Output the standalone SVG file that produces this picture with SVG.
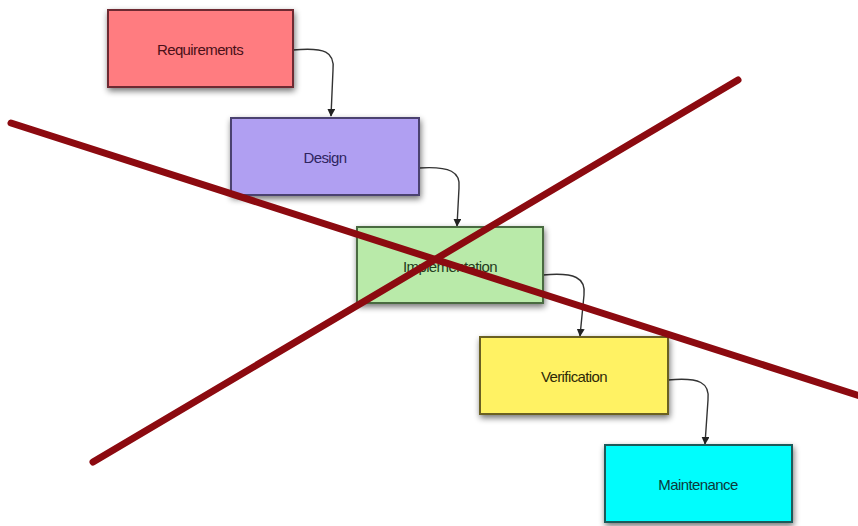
<svg xmlns="http://www.w3.org/2000/svg" width="858" height="526" viewBox="0 0 858 526">
<defs>
<filter id="sh" x="-10%" y="-10%" width="125%" height="135%">
<feGaussianBlur in="SourceAlpha" stdDeviation="3"/>
<feOffset dx="1" dy="3" result="b"/>
<feComponentTransfer><feFuncA type="linear" slope="0.55"/></feComponentTransfer>
<feMerge><feMergeNode/><feMergeNode in="SourceGraphic"/></feMerge>
</filter>
<marker id="ah" viewBox="0 0 10 10" refX="9" refY="5" markerWidth="8" markerHeight="8" orient="auto" markerUnits="userSpaceOnUse">
<path d="M0,0 L10,5 L0,10 z" fill="#222"/>
</marker>
<style>
.box{stroke-width:2;filter:url(#sh)}
.lbl{font-family:"Liberation Sans",Arial,sans-serif;font-size:15px;text-anchor:middle;dominant-baseline:central;letter-spacing:-0.6px}
.con{fill:none;stroke:#333;stroke-width:1.4;marker-end:url(#ah)}
.x{stroke:#8c0a10;stroke-width:7;stroke-linecap:round}
</style>
</defs>
<rect width="858" height="526" fill="#ffffff"/>
<g id="connectors">
<path class="con" d="M293,50 C325,47 335,52 333,70 L331,116"/>
<path class="con" d="M419,168 C450,166 461,172 459,188 L457,226"/>
<path class="con" d="M543,275 C575,272 586,278 584,295 L580,336"/>
<path class="con" d="M668,380 C700,377 710,383 708,400 L705,444"/>
</g>
<g id="requirements">
<rect class="box" x="108" y="10" width="185" height="77" fill="#ff7c80" stroke="#6e2c30"/>
<text class="lbl" x="200" y="49" fill="#4a1018">Requirements</text>
</g>
<g id="design">
<rect class="box" x="231" y="118" width="188" height="77" fill="#b09ff2" stroke="#4c4270"/>
<text class="lbl" x="325" y="157" fill="#2e2560">Design</text>
</g>
<g id="implementation">
<rect class="box" x="357" y="227" width="186" height="76" fill="#b9eaa9" stroke="#4a6a40"/>
<text class="lbl" x="450" y="266" fill="#243c20">Implementation</text>
</g>
<g id="verification">
<rect class="box" x="480" y="337" width="188" height="77" fill="#fff263" stroke="#6a6020"/>
<text class="lbl" x="574" y="376" fill="#2e2a08">Verification</text>
</g>
<g id="maintenance">
<rect class="box" x="605" y="445" width="187" height="77" fill="#00fdfd" stroke="#1e5a5a"/>
<text class="lbl" x="698" y="484" fill="#0c3a3a">Maintenance</text>
</g>
<g id="cross">
<line class="x" x1="11" y1="123" x2="860" y2="396"/>
<line class="x" x1="93" y1="462" x2="738" y2="80"/>
</g>
</svg>
